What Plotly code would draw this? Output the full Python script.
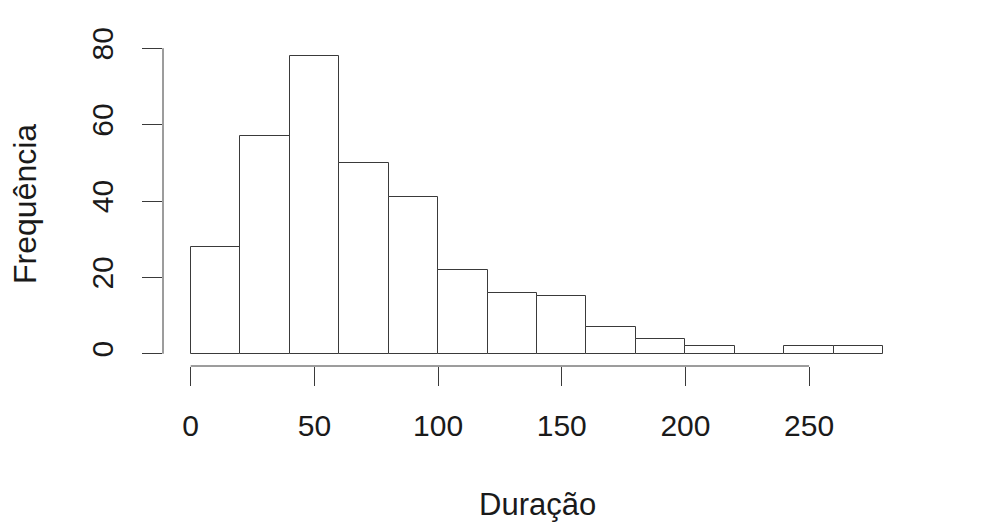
import plotly.graph_objects as go

bin_edges = [0, 20, 40, 60, 80, 100, 120, 140, 160, 180, 200, 220, 240, 260, 280]
counts = [28, 57, 78, 50, 41, 22, 16, 15, 7, 4, 2, 0, 2, 2]
x_ticks = [0, 50, 100, 150, 200, 250]
y_ticks = [0, 20, 40, 60, 80]
x_label = "Duração"
y_label = "Frequência"

centers = [(a + b) / 2 for a, b in zip(bin_edges[:-1], bin_edges[1:])]
widths = [b - a for a, b in zip(bin_edges[:-1], bin_edges[1:])]

FONT = "Liberation Sans, Arial, sans-serif"
LINE = "#3a3a3a"

fig = go.Figure()
fig.add_trace(go.Bar(
    x=centers, y=counts, width=widths,
    marker=dict(color="white", line=dict(color=LINE, width=1)),
    hoverinfo="x+y", showlegend=False,
))

xspan = bin_edges[-1] - bin_edges[0]
yspan = max(y_ticks) - min(y_ticks)
fig.update_layout(
    width=983, height=526,
    margin=dict(l=163, r=72, t=36, b=160),
    paper_bgcolor="white", plot_bgcolor="white",
    font=dict(family=FONT, size=30, color="#1a1a1a"),
    bargap=0,
    xaxis=dict(
        range=[bin_edges[0] - 0.04 * xspan, bin_edges[-1] + 0.04 * xspan],
        tickvals=x_ticks, ticktext=[str(v) for v in x_ticks],
        ticks="outside", ticklen=19, tickwidth=1, tickcolor=LINE,
        showline=False, showgrid=False, zeroline=False,
        ticklabelstandoff=14,
        tickfont=dict(size=30),
    ),
    yaxis=dict(
        range=[min(y_ticks) - 0.04 * yspan, max(y_ticks) + 0.04 * yspan],
        tickvals=y_ticks, ticktext=[str(v) for v in y_ticks],
        ticks="outside", ticklen=20, tickwidth=1, tickcolor=LINE,
        tickangle=-90,
        showline=False, showgrid=False, zeroline=False,
        ticklabelstandoff=17,
        tickfont=dict(size=30),
    ),
    shapes=[
        dict(type="line", xref="x", yref="paper", x0=min(x_ticks), x1=max(x_ticks),
             y0=0, y1=0, line=dict(color=LINE, width=1)),
        dict(type="line", xref="paper", yref="y", x0=0, x1=0,
             y0=min(y_ticks), y1=max(y_ticks), line=dict(color=LINE, width=1)),
    ],
    annotations=[
        dict(text=x_label, xref="paper", yref="paper", x=0.5, y=-0.421,
             xanchor="center", yanchor="middle", showarrow=False,
             font=dict(size=31)),
        dict(text=y_label, xref="paper", yref="paper", x=-0.1845, y=0.491,
             xanchor="center", yanchor="middle", showarrow=False, textangle=-90,
             font=dict(size=32)),
    ],
)

fig.write_html(
    "out.html",
    config={"displayModeBar": False},
    post_script="document.body.style.margin='0';document.body.style.padding='0';document.body.style.overflow='hidden';",
)
